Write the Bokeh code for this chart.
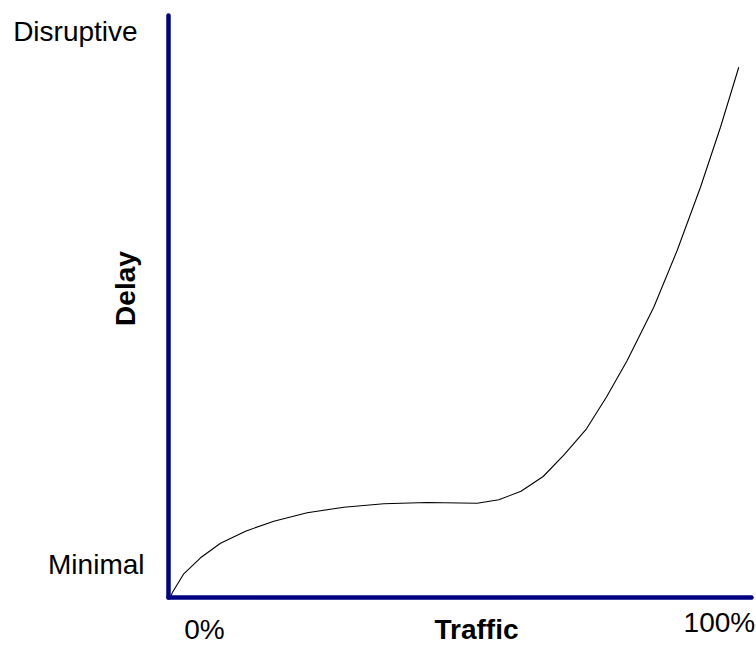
from bokeh.plotting import figure
from bokeh.models import Range1d, Label, FixedTicker, LinearAxis
from bokeh.embed import file_html
from bokeh.resources import INLINE
import math

# Data (traffic %, relative delay %)
traffic = [0.34, 0.69, 2.62, 5.49, 8.92, 13.21, 18.06, 23.79, 30.07, 36.93, 44.37,
           52.95, 56.66, 60.46, 64.27, 67.92, 71.7, 75.13, 78.68, 83.24, 87.25,
           91.25, 94.68, 97.82]
delay = [0.09, 1.00, 4.15, 6.90, 9.41, 11.47, 13.18, 14.63, 15.59, 16.17, 16.39,
         16.27, 16.86, 18.33, 20.86, 24.64, 29.05, 34.51, 40.77, 49.92, 59.66,
         70.52, 80.82, 91.12]

x_label = "Traffic"
y_label = "Delay"
x_tick_labels = ["0%", "100%"]
y_tick_labels = ["Minimal", "Disruptive"]

NAVY = "#000080"
FONT = "Liberation Sans"

p = figure(width=755, height=648, output_backend="svg", toolbar_location=None,
           x_range=Range1d(-28.82, 100.69), y_range=Range1d(-8.67, 102.58),
           x_axis_type=None, y_axis_type=None,
           min_border_left=0, min_border_right=0, min_border_top=0,
           min_border_bottom=0)
p.outline_line_color = None
p.grid.visible = False
p.background_fill_color = "white"
p.border_fill_color = "white"

for loc in ("left", "below"):
    ax = LinearAxis(fixed_location=0, bounds=(0, 100))
    ax.ticker = FixedTicker(ticks=[])
    ax.major_label_text_font_size = "0px"
    ax.major_tick_line_color = None
    ax.minor_tick_line_color = None
    ax.axis_line_color = NAVY
    ax.axis_line_width = 4.5
    ax.axis_line_cap = "round"
    p.add_layout(ax, loc)

p.line(traffic, delay, line_color="black", line_width=1.1)

def lab(x, y, text, align="center", bold=False, angle=0.0, size="28px"):
    p.add_layout(Label(x=x, y=y, text=text, text_align=align,
                       text_baseline="alphabetic", text_font=FONT,
                       text_font_size=size, angle=angle,
                       text_font_style="bold" if bold else "normal",
                       text_color="black"))

lab(-5.3, 97.3, y_tick_labels[1], align="right")
lab(-4.12, 5.7, y_tick_labels[0], align="right")
lab(6.17, -5.4, x_tick_labels[0])
lab(94.5, -4.25, x_tick_labels[1])
lab(52.83, -5.4, x_label, bold=True)
lab(-7.4, 53.13, y_label, bold=True, angle=math.pi / 2)

open("out.html", "w").write(file_html(p, INLINE))
